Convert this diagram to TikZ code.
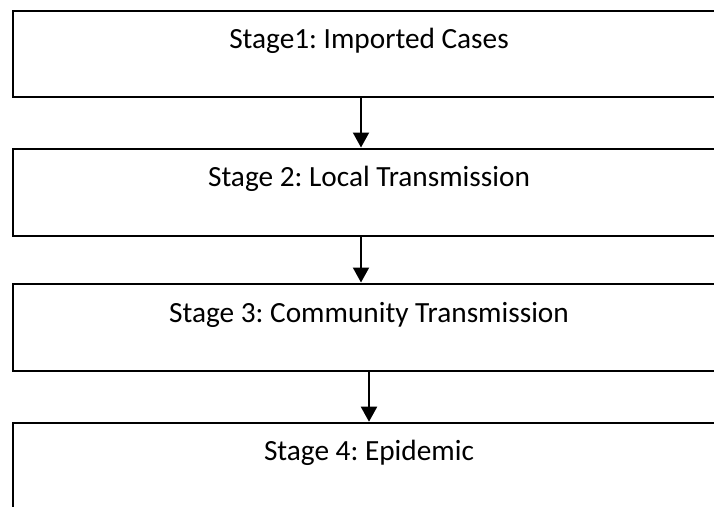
\documentclass[tikz,border=0pt]{standalone}
\usepackage{fontspec}
\setmainfont{Carlito}
\frenchspacing
\usetikzlibrary{arrows.meta}
\begin{document}
\begin{tikzpicture}[x=1pt,y=1pt,
  stagebox/.style={draw=black,line width=2pt,rectangle,inner sep=0pt,anchor=north west,minimum width=800pt},
  stagetext/.style={font=\fontsize{29.3}{32}\selectfont,text=black,inner sep=0pt,anchor=base},
  flow/.style={line width=2pt,-{Triangle[length=15pt,width=16pt]}}]
\useasboundingbox (0,0) rectangle (714,-506);
\clip (0,0) rectangle (714,-506);
\fill[white] (0,0) rectangle (714,-506);
\node[stagebox,minimum height=86.5pt] (b1) at (12,-9.5) {};
\node[stagebox,minimum height=87.5pt] (b2) at (12,-147.5) {};
\node[stagebox,minimum height=87.5pt] (b3) at (12,-282.5) {};
\node[stagebox,minimum height=140pt] (b4) at (12,-421.7) {};
\node[stagetext] (t1) at (369,-48.3) {Stage1: Imported Cases};
\node[stagetext] (t2) at (369,-186) {Stage 2: Local Transmission};
\node[stagetext] (t3) at (369,-322.5) {Stage 3: Community Transmission};
\node[stagetext] (t4) at (369,-460) {Stage 4: Epidemic};
\coordinate (c1) at (361,0);
\coordinate (c3) at (369,0);
\draw[flow] (b1.south -| c1) -- (b2.north -| c1);
\draw[flow] (b2.south -| c1) -- (b3.north -| c1);
\draw[flow] (b3.south -| c3) -- (b4.north -| c3);
\end{tikzpicture}
\end{document}
